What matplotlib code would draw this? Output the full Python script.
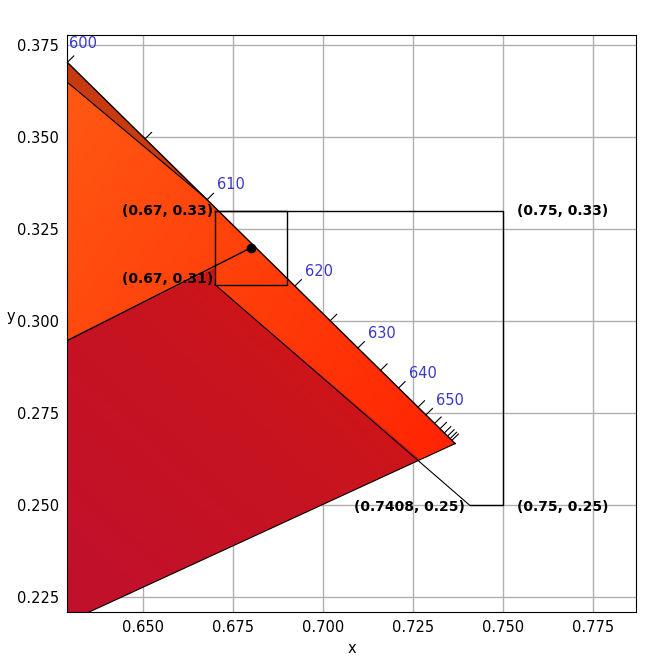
import numpy as np
import matplotlib
matplotlib.use("Agg")
import matplotlib.pyplot as plt
from matplotlib.patches import Polygon
from matplotlib.colors import LinearSegmentedColormap

# spectral locus (x, y) and wavelength ticks
locus_x = [0.6290, 0.7367]
locus_y = [0.3704, 0.2668]
wl = [600, 605, 610, 620, 625, 630, 635, 640, 645, 650, 655, 660, 665, 670, 675, 680]
wl_x = [0.6290, 0.6506, 0.6678, 0.6922, 0.7020, 0.7097, 0.7160, 0.7210, 0.7264, 0.7286, 0.7310, 0.7325, 0.7337, 0.7346, 0.7353, 0.7358]
wl_labels = [600, 610, 620, 630, 640, 650]
gamut_bottom_x = [0.6350, 0.7367]
gamut_bottom_y = [0.2210, 0.2668]
strip_x = [0.6290, 0.6680]
strip_y = [0.3650, 0.3330]
white_line_x = [0.6290, 0.6800]
white_line_y = [0.2948, 0.3200]
point = (0.68, 0.32)
small_box = [(0.67, 0.33), (0.69, 0.33), (0.69, 0.31), (0.67, 0.31)]
big_box = [(0.67, 0.33), (0.75, 0.33), (0.75, 0.25), (0.7408, 0.25)]
corner_labels = ["(0.67, 0.33)", "(0.67, 0.31)", "(0.75, 0.33)", "(0.75, 0.25)", "(0.7408, 0.25)"]

def locus(x):
    return locus_y[0] + (x - locus_x[0]) * (locus_y[1] - locus_y[0]) / (locus_x[1] - locus_x[0])

fig = plt.figure(figsize=(6.6, 6.69), dpi=100)
ax = fig.add_axes([0.102, 0.085, 0.862, 0.862])
xmin, xmax, ymin, ymax = 0.629, 0.787, 0.221, 0.3777
ax.set_xlim(xmin, xmax); ax.set_ylim(ymin, ymax)

full = Polygon([(xmin, locus_y[0]), (locus_x[1], locus_y[1]), (gamut_bottom_x[0], gamut_bottom_y[0]), (xmin, ymin)],
               closed=True, facecolor='none', edgecolor='none')
ax.add_patch(full)
cm1 = LinearSegmentedColormap.from_list('a', ['#ff5a14', '#ff3a08', '#ff1a00'])
gx, gy = np.meshgrid(np.linspace(0, 1, 200), np.linspace(0, 1, 200))
im = ax.imshow(cm1((gx + (1 - gy)) / 2), extent=[xmin, 0.74, ymin, 0.372], origin='lower', aspect='auto', zorder=1)
im.set_clip_path(full)

x_c = 0.67; y_c = 0.31
xe = 0.727; ye = gamut_bottom_y[0] + (xe - gamut_bottom_x[0]) * (gamut_bottom_y[1] - gamut_bottom_y[0]) / (gamut_bottom_x[1] - gamut_bottom_x[0])
dark = Polygon([(xmin, white_line_y[0]), (x_c, 0.3146), (x_c, y_c), (xe, ye), (gamut_bottom_x[0], gamut_bottom_y[0]), (xmin, ymin)],
               closed=True, facecolor='none', edgecolor='none')
ax.add_patch(dark)
cm2 = LinearSegmentedColormap.from_list('b', ['#c0102c', '#c81420', '#d81408'])
im2 = ax.imshow(cm2((gx + gy) / 2), extent=[xmin, 0.74, ymin, 0.32], origin='lower', aspect='auto', zorder=2)
im2.set_clip_path(dark)

ax.fill([strip_x[0], strip_x[1], strip_x[1], strip_x[0]], [strip_y[0], strip_y[1], locus(strip_x[1]), locus_y[0]],
        color='#c83a10', zorder=3, lw=0)
ax.plot(strip_x, strip_y, color='black', lw=0.8, zorder=4)
ax.plot(locus_x, locus_y, color='black', lw=1, zorder=4)
ax.plot(gamut_bottom_x, gamut_bottom_y, color='black', lw=0.8, zorder=4)

d = np.array([1.0, 0.96]); d /= np.linalg.norm(d)
for w, x in zip(wl, wl_x):
    y = locus(x)
    ax.plot([x, x + 0.0025 * d[0]], [y, y + 0.0025 * d[1]], color='black', lw=0.8, zorder=4, clip_on=False)
    if w in wl_labels:
        if w == 600:
            ax.text(x + 0.0005, ymax - 0.0002, str(w), color='#3838c8', fontsize=10.5, va='top', zorder=9)
        else:
            ax.text(x + 0.0028, y + 0.0028, str(w), color='#3838c8', fontsize=10.5, zorder=5)

ax.plot(white_line_x, white_line_y, color='black', lw=1, zorder=4)
ax.plot([0.67, 0.7408], [0.31, 0.25], color='black', lw=0.8, zorder=4)
sx, sy = zip(*(small_box + [small_box[0]]))
ax.plot(sx, sy, color='black', lw=1, zorder=4)
bx, by = zip(*big_box)
ax.plot(list(bx), list(by), color='black', lw=1, zorder=4)
ax.plot([point[0]], [point[1]], 'o', color='black', ms=6, zorder=6)

kw = dict(fontsize=10, fontweight='bold', color='black', zorder=7)
ax.text(0.6695, 0.33, corner_labels[0], ha='right', va='center', **kw)
ax.text(0.6695, 0.3115, corner_labels[1], ha='right', va='center', **kw)
ax.text(0.754, 0.33, corner_labels[2], ha='left', va='center', **kw)
ax.text(0.754, 0.2495, corner_labels[3], ha='left', va='center', **kw)
ax.text(0.7395, 0.2495, corner_labels[4], ha='right', va='center', **kw)

ax.set_xticks([0.65, 0.675, 0.7, 0.725, 0.75, 0.775])
ax.set_yticks([0.225, 0.25, 0.275, 0.3, 0.325, 0.35, 0.375])
ax.xaxis.set_major_formatter(matplotlib.ticker.FormatStrFormatter('%.3f'))
ax.yaxis.set_major_formatter(matplotlib.ticker.FormatStrFormatter('%.3f'))
ax.grid(True, color='#b0b0b0', lw=1, zorder=0)
ax.set_axisbelow(True)
ax.tick_params(labelsize=10.5, length=0, pad=6)
ax.set_xlabel('x', fontsize=10.5)
ax.set_ylabel('y', fontsize=10.5, rotation=0, labelpad=4)
for s in ax.spines.values():
    s.set_color('black'); s.set_zorder(8)
fig.savefig('out.png', dpi=100)
